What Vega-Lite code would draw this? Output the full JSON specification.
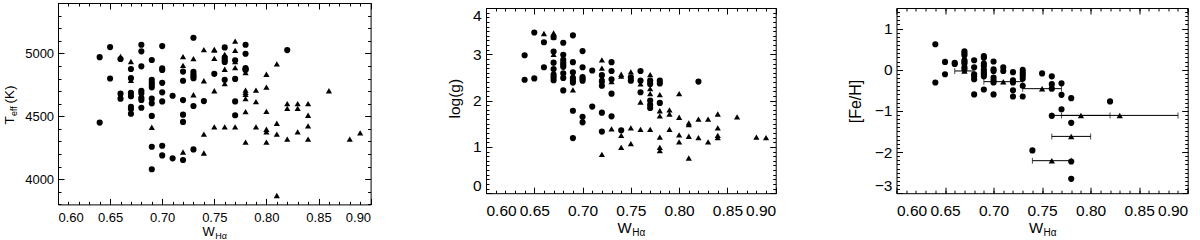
{
"$schema": "https://vega.github.io/schema/vega-lite/v6.json",
"background": "white",
"padding": {"left": 2, "top": 2, "right": 0, "bottom": 0},
"config": {"view": {"stroke": null}, "font": "Liberation Sans",
 "axis": {"grid": false, "domainColor": "black", "tickColor": "black", "labelColor": "black", "titleColor": "black", "titleFontWeight": "normal", "labelFont": "Liberation Sans", "titleFont": "Liberation Sans", "domainWidth": 1, "tickWidth": 1}},
"datasets": {
"p1": [
{"x":0.64,"y":4970,"s":"c"},{"x":0.64,"y":4450,"s":"c"},
{"x":0.65,"y":5050,"s":"c"},{"x":0.65,"y":4800,"s":"c"},
{"x":0.66,"y":4955,"s":"c"},{"x":0.66,"y":4975,"s":"t"},{"x":0.66,"y":4680,"s":"c"},{"x":0.66,"y":4640,"s":"c"},
{"x":0.67,"y":4935,"s":"t"},{"x":0.67,"y":4876,"s":"c"},{"x":0.67,"y":4803,"s":"c"},{"x":0.67,"y":4785,"s":"t"},{"x":0.67,"y":4687,"s":"c"},{"x":0.67,"y":4660,"s":"c"},{"x":0.67,"y":4576,"s":"c"},{"x":0.67,"y":4558,"s":"c"},{"x":0.67,"y":4520,"s":"c"},
{"x":0.68,"y":5068,"s":"c"},{"x":0.68,"y":5016,"s":"c"},{"x":0.68,"y":4897,"s":"c"},{"x":0.68,"y":4702,"s":"c"},{"x":0.68,"y":4684,"s":"c"},{"x":0.68,"y":4647,"s":"c"},{"x":0.68,"y":4630,"s":"c"},{"x":0.68,"y":4568,"s":"c"},
{"x":0.69,"y":4947,"s":"c"},{"x":0.69,"y":4790,"s":"c"},{"x":0.69,"y":4768,"s":"c"},{"x":0.69,"y":4750,"s":"c"},{"x":0.69,"y":4730,"s":"c"},{"x":0.69,"y":4640,"s":"c"},{"x":0.69,"y":4603,"s":"c"},{"x":0.69,"y":4503,"s":"c"},{"x":0.69,"y":4413,"s":"t"},{"x":0.69,"y":4258,"s":"c"},{"x":0.69,"y":4079,"s":"c"},
{"x":0.70,"y":5058,"s":"c"},{"x":0.70,"y":4880,"s":"c"},{"x":0.70,"y":4868,"s":"c"},{"x":0.70,"y":4766,"s":"c"},{"x":0.70,"y":4690,"s":"c"},{"x":0.70,"y":4618,"s":"c"},{"x":0.70,"y":4266,"s":"c"},{"x":0.70,"y":4189,"s":"c"},
{"x":0.71,"y":4663,"s":"c"},{"x":0.71,"y":4166,"s":"c"},
{"x":0.72,"y":4974,"s":"t"},{"x":0.72,"y":4905,"s":"t"},{"x":0.72,"y":4855,"s":"c"},{"x":0.72,"y":4782,"s":"c"},{"x":0.72,"y":4629,"s":"c"},{"x":0.72,"y":4513,"s":"c"},{"x":0.72,"y":4455,"s":"c"},{"x":0.72,"y":4216,"s":"t"},{"x":0.72,"y":4153,"s":"c"},
{"x":0.73,"y":5124,"s":"c"},{"x":0.73,"y":4958,"s":"t"},{"x":0.73,"y":4853,"s":"c"},{"x":0.73,"y":4834,"s":"c"},{"x":0.73,"y":4818,"s":"c"},{"x":0.73,"y":4803,"s":"c"},{"x":0.73,"y":4671,"s":"t"},{"x":0.73,"y":4582,"s":"c"},{"x":0.73,"y":4237,"s":"c"},
{"x":0.74,"y":5029,"s":"t"},{"x":0.74,"y":4782,"s":"t"},{"x":0.74,"y":4621,"s":"c"},{"x":0.74,"y":4358,"s":"t"},{"x":0.74,"y":4208,"s":"t"},
{"x":0.75,"y":5032,"s":"t"},{"x":0.75,"y":5025,"s":"t"},{"x":0.75,"y":4960,"s":"t"},{"x":0.75,"y":4837,"s":"c"},{"x":0.75,"y":4703,"s":"t"},{"x":0.75,"y":4416,"s":"t"},
{"x":0.76,"y":5047,"s":"c"},{"x":0.76,"y":4992,"s":"t"},{"x":0.76,"y":4966,"s":"c"},{"x":0.76,"y":4947,"s":"c"},{"x":0.76,"y":4932,"s":"c"},{"x":0.76,"y":4874,"s":"t"},{"x":0.76,"y":4790,"s":"c"},{"x":0.76,"y":4760,"s":"t"},{"x":0.76,"y":4416,"s":"t"},
{"x":0.77,"y":5097,"s":"t"},{"x":0.77,"y":5024,"s":"t"},{"x":0.77,"y":4945,"s":"c"},{"x":0.77,"y":4935,"s":"t"},{"x":0.77,"y":4887,"s":"t"},{"x":0.77,"y":4797,"s":"c"},{"x":0.77,"y":4618,"s":"c"},{"x":0.77,"y":4508,"s":"c"},{"x":0.77,"y":4416,"s":"t"},
{"x":0.78,"y":5068,"s":"c"},{"x":0.78,"y":4997,"s":"c"},{"x":0.78,"y":4882,"s":"c"},{"x":0.78,"y":4874,"s":"c"},{"x":0.78,"y":4868,"s":"c"},{"x":0.78,"y":4847,"s":"t"},{"x":0.78,"y":4708,"s":"t"},{"x":0.78,"y":4690,"s":"t"},{"x":0.78,"y":4674,"s":"t"},{"x":0.78,"y":4640,"s":"t"},{"x":0.78,"y":4537,"s":"t"},{"x":0.78,"y":4295,"s":"t"},
{"x":0.79,"y":4708,"s":"t"},{"x":0.79,"y":4616,"s":"t"},{"x":0.79,"y":4416,"s":"t"},
{"x":0.80,"y":4834,"s":"t"},{"x":0.80,"y":4732,"s":"t"},{"x":0.80,"y":4539,"s":"t"},{"x":0.80,"y":4397,"s":"t"},{"x":0.80,"y":4376,"s":"t"},{"x":0.80,"y":4295,"s":"t"},
{"x":0.81,"y":4916,"s":"t"},{"x":0.81,"y":4445,"s":"t"},{"x":0.81,"y":4358,"s":"t"},{"x":0.81,"y":3871,"s":"t"},
{"x":0.82,"y":5026,"s":"c"},{"x":0.82,"y":4600,"s":"t"},{"x":0.82,"y":4563,"s":"t"},{"x":0.82,"y":4318,"s":"t"},
{"x":0.83,"y":4600,"s":"t"},{"x":0.83,"y":4563,"s":"t"},{"x":0.83,"y":4376,"s":"t"},
{"x":0.84,"y":4600,"s":"t"},{"x":0.84,"y":4508,"s":"t"},{"x":0.84,"y":4424,"s":"t"},{"x":0.84,"y":4318,"s":"t"},
{"x":0.86,"y":4703,"s":"t"},{"x":0.88,"y":4318,"s":"t"},{"x":0.89,"y":4368,"s":"t"}
],
"p2": [
{"x":0.64,"y":2.98,"s":"c"},{"x":0.64,"y":2.45,"s":"c"},
{"x":0.65,"y":3.47,"s":"c"},{"x":0.65,"y":2.48,"s":"c"},
{"x":0.66,"y":3.45,"s":"t"},{"x":0.66,"y":3.26,"s":"c"},{"x":0.66,"y":2.72,"s":"c"},
{"x":0.67,"y":3.46,"s":"t"},{"x":0.67,"y":3.38,"s":"t"},{"x":0.67,"y":3.37,"s":"c"},{"x":0.67,"y":3.06,"s":"c"},{"x":0.67,"y":3.0,"s":"t"},{"x":0.67,"y":2.82,"s":"c"},{"x":0.67,"y":2.68,"s":"c"},{"x":0.67,"y":2.56,"s":"c"},{"x":0.67,"y":2.5,"s":"c"},{"x":0.67,"y":2.44,"s":"c"},
{"x":0.68,"y":3.25,"s":"c"},{"x":0.68,"y":2.99,"s":"c"},{"x":0.68,"y":2.88,"s":"c"},{"x":0.68,"y":2.82,"s":"c"},{"x":0.68,"y":2.77,"s":"c"},{"x":0.68,"y":2.73,"s":"c"},{"x":0.68,"y":2.59,"s":"c"},{"x":0.68,"y":2.49,"s":"c"},{"x":0.68,"y":2.22,"s":"c"},
{"x":0.69,"y":3.41,"s":"c"},{"x":0.69,"y":2.83,"s":"c"},{"x":0.69,"y":2.61,"s":"c"},{"x":0.69,"y":2.49,"s":"c"},{"x":0.69,"y":2.44,"s":"c"},{"x":0.69,"y":2.39,"s":"c"},{"x":0.69,"y":2.23,"s":"t"},{"x":0.69,"y":1.78,"s":"c"},{"x":0.69,"y":1.19,"s":"c"},
{"x":0.70,"y":3.07,"s":"c"},{"x":0.70,"y":2.72,"s":"c"},{"x":0.70,"y":2.51,"s":"c"},{"x":0.70,"y":2.47,"s":"c"},{"x":0.70,"y":2.43,"s":"c"},{"x":0.70,"y":1.65,"s":"c"},{"x":0.70,"y":1.53,"s":"c"},
{"x":0.71,"y":2.65,"s":"c"},{"x":0.71,"y":1.87,"s":"c"},
{"x":0.72,"y":2.88,"s":"t"},{"x":0.72,"y":2.7,"s":"t"},{"x":0.72,"y":2.55,"s":"c"},{"x":0.72,"y":2.5,"s":"t"},{"x":0.72,"y":2.41,"s":"c"},{"x":0.72,"y":2.32,"s":"c"},{"x":0.72,"y":1.74,"s":"c"},{"x":0.72,"y":1.33,"s":"c"},{"x":0.72,"y":0.84,"s":"t"},
{"x":0.73,"y":2.83,"s":"c"},{"x":0.73,"y":2.64,"s":"c"},{"x":0.73,"y":2.46,"s":"c"},{"x":0.73,"y":2.41,"s":"t"},{"x":0.73,"y":2.15,"s":"c"},{"x":0.73,"y":1.66,"s":"c"},{"x":0.73,"y":1.39,"s":"t"},
{"x":0.74,"y":2.57,"s":"t"},{"x":0.74,"y":2.53,"s":"t"},{"x":0.74,"y":1.36,"s":"c"},{"x":0.74,"y":1.25,"s":"t"},{"x":0.74,"y":0.99,"s":"t"},
{"x":0.75,"y":2.62,"s":"t"},{"x":0.75,"y":2.5,"s":"c"},{"x":0.75,"y":2.43,"s":"c"},{"x":0.75,"y":1.41,"s":"t"},{"x":0.75,"y":1.07,"s":"t"},
{"x":0.76,"y":2.64,"s":"c"},{"x":0.76,"y":2.43,"s":"c"},{"x":0.76,"y":2.36,"s":"t"},{"x":0.76,"y":2.18,"s":"c"},{"x":0.76,"y":1.97,"s":"t"},{"x":0.76,"y":1.38,"s":"t"},
{"x":0.77,"y":2.56,"s":"t"},{"x":0.77,"y":2.43,"s":"c"},{"x":0.77,"y":2.36,"s":"c"},{"x":0.77,"y":2.26,"s":"t"},{"x":0.77,"y":2.15,"s":"t"},{"x":0.77,"y":2.0,"s":"c"},{"x":0.77,"y":1.91,"s":"c"},{"x":0.77,"y":1.84,"s":"c"},{"x":0.77,"y":1.38,"s":"t"},
{"x":0.78,"y":2.43,"s":"c"},{"x":0.78,"y":2.37,"s":"c"},{"x":0.78,"y":2.13,"s":"t"},{"x":0.78,"y":1.95,"s":"c"},{"x":0.78,"y":1.78,"s":"t"},{"x":0.78,"y":1.67,"s":"t"},{"x":0.78,"y":1.21,"s":"t"},{"x":0.78,"y":0.99,"s":"t"},{"x":0.78,"y":0.92,"s":"t"},
{"x":0.79,"y":1.8,"s":"t"},{"x":0.79,"y":1.71,"s":"t"},{"x":0.79,"y":1.38,"s":"t"},
{"x":0.80,"y":2.15,"s":"t"},{"x":0.80,"y":1.64,"s":"t"},{"x":0.80,"y":1.26,"s":"t"},{"x":0.80,"y":1.11,"s":"t"},
{"x":0.81,"y":1.52,"s":"t"},{"x":0.81,"y":1.48,"s":"t"},{"x":0.81,"y":1.23,"s":"t"},{"x":0.81,"y":0.76,"s":"t"},
{"x":0.82,"y":2.41,"s":"c"},{"x":0.82,"y":1.6,"s":"t"},{"x":0.82,"y":1.2,"s":"t"},
{"x":0.83,"y":1.6,"s":"t"},{"x":0.83,"y":1.11,"s":"t"},
{"x":0.84,"y":1.71,"s":"t"},{"x":0.84,"y":1.41,"s":"t"},{"x":0.84,"y":1.25,"s":"t"},{"x":0.84,"y":1.2,"s":"t"},
{"x":0.86,"y":1.65,"s":"t"},{"x":0.88,"y":1.21,"s":"t"},{"x":0.89,"y":1.2,"s":"t"}
],
"p3": [
{"x":0.64,"y":0.62},{"x":0.64,"y":-0.31},
{"x":0.65,"y":0.19},{"x":0.65,"y":-0.11},
{"x":0.66,"y":0.17},{"x":0.66,"y":0.14},
{"x":0.67,"y":0.45},{"x":0.67,"y":0.4},{"x":0.67,"y":0.35},{"x":0.67,"y":0.23},{"x":0.67,"y":0.19},{"x":0.67,"y":0.15},{"x":0.67,"y":0.06},{"x":0.67,"y":0.01},
{"x":0.68,"y":0.23},{"x":0.68,"y":0.06},{"x":0.68,"y":-0.11},{"x":0.68,"y":-0.16},{"x":0.68,"y":-0.23},{"x":0.68,"y":-0.6},
{"x":0.69,"y":0.33},{"x":0.69,"y":0.29},{"x":0.69,"y":0.15},{"x":0.69,"y":0.09},{"x":0.69,"y":0.0},{"x":0.69,"y":-0.06},{"x":0.69,"y":-0.11},{"x":0.69,"y":-0.16},{"x":0.69,"y":-0.48},
{"x":0.70,"y":0.2},{"x":0.70,"y":0.01},{"x":0.70,"y":-0.03},{"x":0.70,"y":-0.19},{"x":0.70,"y":-0.26},{"x":0.70,"y":-0.31},{"x":0.70,"y":-0.6},
{"x":0.71,"y":0.06},{"x":0.71,"y":-0.03},
{"x":0.72,"y":-0.06},{"x":0.72,"y":-0.26},{"x":0.72,"y":-0.31},{"x":0.72,"y":-0.5},{"x":0.72,"y":-0.65},
{"x":0.73,"y":0.0},{"x":0.73,"y":-0.06},{"x":0.73,"y":-0.11},{"x":0.73,"y":-0.16},{"x":0.73,"y":-0.22},{"x":0.73,"y":-0.39},{"x":0.73,"y":-0.65},
{"x":0.74,"y":-1.96},{"x":0.75,"y":-0.09},
{"x":0.76,"y":-0.16},{"x":0.76,"y":-0.35},{"x":0.76,"y":-0.46},{"x":0.76,"y":-1.12},
{"x":0.77,"y":-0.33},{"x":0.77,"y":-0.61},{"x":0.77,"y":-0.96},
{"x":0.78,"y":-0.69},{"x":0.78,"y":-1.29},{"x":0.78,"y":-2.23},{"x":0.78,"y":-2.65},
{"x":0.82,"y":-0.77}
],
"e3": [
{"x":0.67,"y":-0.03,"lo":0.66,"hi":0.68},
{"x":0.71,"y":-0.29,"lo":0.69,"hi":0.73},
{"x":0.75,"y":-0.46,"lo":0.73,"hi":0.77},
{"x":0.79,"y":-1.11,"lo":0.76,"hi":0.82},
{"x":0.83,"y":-1.11,"lo":0.77,"hi":0.89},
{"x":0.78,"y":-1.62,"lo":0.76,"hi":0.8},
{"x":0.76,"y":-2.21,"lo":0.74,"hi":0.78}
]
},
"spacing": 115,
"bounds": "flush",
"hconcat": [
{
 "width": 312.6, "height": 201.4,
 "data": {"name": "p1"},
 "resolve": {"axis": {"x": "independent", "y": "independent"}},
 "layer": [
  {"mark": {"type": "point", "filled": true, "color": "black", "opacity": 1, "size": 38},
   "encoding": {
    "x": {"field": "x", "type": "quantitative", "scale": {"domain": [0.6, 0.9], "nice": false, "zero": false},
     "axis": {"orient": "bottom", "values": [0.6,0.65,0.7,0.75,0.8,0.85,0.9], "format": ".2f", "ticks": false, "labelFontSize": 13, "labelPadding": 7, "title": "W", "titleFontSize": 13, "titleX": 144, "titleY": 30.8, "titleAlign": "left", "titleBaseline": "alphabetic"}},
    "y": {"field": "y", "type": "quantitative", "scale": {"domain": [3800, 5400], "nice": false, "zero": false},
     "axis": {"orient": "left", "values": [4000,4500,5000], "format": "d", "ticks": false, "labelFontSize": 13, "labelPadding": 4.4, "title": "T", "titleFontSize": 13.5, "titleAngle": 270, "titleAlign": "left", "titleBaseline": "alphabetic", "titleX": -45, "titleY": 121}},
    "shape": {"field": "s", "type": "nominal", "scale": {"domain": ["c","t"], "range": ["circle","triangle-up"]}, "legend": null}
   }},
  {"mark": {"type": "point", "opacity": 0},
   "encoding": {
    "x": {"field": "x", "type": "quantitative", "axis": {"orient": "top", "values": [0.6,0.65,0.7,0.75,0.8,0.85,0.9], "labels": false, "tickSize": -6, "title": null}},
    "y": {"field": "y", "type": "quantitative", "axis": {"orient": "right", "values": [4000,4500,5000], "labels": false, "tickSize": -6, "title": null}}
   }},
  {"mark": {"type": "point", "opacity": 0},
   "encoding": {
    "x": {"field": "x", "type": "quantitative", "axis": {"orient": "bottom", "values": [0.6,0.65,0.7,0.75,0.8,0.85,0.9], "labels": false, "domain": false, "tickSize": -6, "title": "Hα", "titleFontSize": 9, "titleX": 156.8, "titleY": 33.8, "titleAlign": "left", "titleBaseline": "alphabetic"}},
    "y": {"field": "y", "type": "quantitative", "axis": {"orient": "left", "values": [4000,4500,5000], "labels": false, "domain": false, "tickSize": -6, "title": "eff", "titleFontSize": 9, "titleAngle": 270, "titleAlign": "left", "titleBaseline": "alphabetic", "titleX": -42, "titleY": 112.6}}
   }},
  {"mark": {"type": "point", "opacity": 0},
   "encoding": {
    "x": {"field": "x", "type": "quantitative", "axis": {"orient": "bottom", "values": [0.6,0.61,0.62,0.63,0.64,0.65,0.66,0.67,0.68,0.69,0.7,0.71,0.72,0.73,0.74,0.75,0.76,0.77,0.78,0.79,0.8,0.81,0.82,0.83,0.84,0.85,0.86,0.87,0.88,0.89,0.9], "labels": false, "domain": false, "tickSize": -3, "title": null}},
    "y": {"field": "y", "type": "quantitative", "axis": {"orient": "left", "values": [3800,3900,4000,4100,4200,4300,4400,4500,4600,4700,4800,4900,5000,5100,5200,5300,5400], "labels": false, "domain": false, "tickSize": -3, "title": "(K)", "titleFontSize": 13.5, "titleAngle": 270, "titleAlign": "left", "titleBaseline": "alphabetic", "titleX": -45, "titleY": 100}}
   }},
  {"mark": {"type": "point", "opacity": 0},
   "encoding": {
    "x": {"field": "x", "type": "quantitative", "axis": {"orient": "top", "values": [0.6,0.61,0.62,0.63,0.64,0.65,0.66,0.67,0.68,0.69,0.7,0.71,0.72,0.73,0.74,0.75,0.76,0.77,0.78,0.79,0.8,0.81,0.82,0.83,0.84,0.85,0.86,0.87,0.88,0.89,0.9], "labels": false, "domain": false, "tickSize": -3, "title": null}},
    "y": {"field": "y", "type": "quantitative", "axis": {"orient": "right", "values": [3800,3900,4000,4100,4200,4300,4400,4500,4600,4700,4800,4900,5000,5100,5200,5300,5400], "labels": false, "domain": false, "tickSize": -3, "title": null}}
   }}
 ]
},
{
 "spacing": 120.5,
 "bounds": "flush",
 "hconcat": [
 {
  "width": 289.7, "height": 190.2,
  "data": {"name": "p2"},
  "resolve": {"axis": {"x": "independent", "y": "independent"}},
  "layer": [
   {"mark": {"type": "point", "filled": true, "color": "black", "opacity": 1, "size": 38},
    "encoding": {
     "x": {"field": "x", "type": "quantitative", "scale": {"domain": [0.6, 0.9], "nice": false, "zero": false},
      "axis": {"orient": "bottom", "values": [0.6,0.65,0.7,0.75,0.8,0.85,0.9], "format": ".2f", "ticks": false, "labelFontSize": 15.5, "labelPadding": 10.5, "title": "W", "titleFontSize": 15, "titleX": 131, "titleY": 39, "titleAlign": "left", "titleBaseline": "alphabetic"}},
     "y": {"field": "y", "type": "quantitative", "scale": {"domain": [0, 4], "nice": false, "zero": false, "range": [190.2, 5]},
      "axis": {"orient": "left", "values": [0,1,2,3,4], "format": "d", "ticks": false, "labelFontSize": 15.5, "labelPadding": 5, "labelFlush": true, "title": "log(g)", "titleFontSize": 15.5, "titleAngle": 270, "titleAlign": "center", "titleBaseline": "alphabetic", "titleX": -26.7, "titleY": 95.2}},
     "shape": {"field": "s", "type": "nominal", "scale": {"domain": ["c","t"], "range": ["circle","triangle-up"]}, "legend": null}
    }},
   {"mark": {"type": "point", "opacity": 0},
    "encoding": {
     "x": {"field": "x", "type": "quantitative", "axis": {"orient": "top", "offset": -5, "values": [0.6,0.65,0.7,0.75,0.8,0.85,0.9], "labels": false, "tickSize": -6, "title": null}},
     "y": {"field": "y", "type": "quantitative", "axis": {"orient": "right", "values": [0,1,2,3,4], "labels": false, "tickSize": -6, "title": null}}
    }},
   {"mark": {"type": "point", "opacity": 0},
    "encoding": {
     "x": {"field": "x", "type": "quantitative", "axis": {"orient": "bottom", "values": [0.6,0.65,0.7,0.75,0.8,0.85,0.9], "labels": false, "domain": false, "tickSize": -6, "title": "Hα", "titleFontSize": 10, "titleX": 145.7, "titleY": 42.5, "titleAlign": "left", "titleBaseline": "alphabetic"}},
     "y": {"field": "y", "type": "quantitative", "axis": {"orient": "left", "values": [0,1,2,3,4], "labels": false, "domain": false, "tickSize": -6, "title": null}}
    }},
   {"mark": {"type": "point", "opacity": 0},
    "encoding": {
     "x": {"field": "x", "type": "quantitative", "axis": {"orient": "bottom", "values": [0.6,0.61,0.62,0.63,0.64,0.65,0.66,0.67,0.68,0.69,0.7,0.71,0.72,0.73,0.74,0.75,0.76,0.77,0.78,0.79,0.8,0.81,0.82,0.83,0.84,0.85,0.86,0.87,0.88,0.89,0.9], "labels": false, "domain": false, "tickSize": -3, "title": null}},
     "y": {"field": "y", "type": "quantitative", "axis": {"orient": "left", "values": [0,0.1,0.2,0.3,0.4,0.5,0.6,0.7,0.8,0.9,1,1.1,1.2,1.3,1.4,1.5,1.6,1.7,1.8,1.9,2,2.1,2.2,2.3,2.4,2.5,2.6,2.7,2.8,2.9,3,3.1,3.2,3.3,3.4,3.5,3.6,3.7,3.8,3.9,4], "labels": false, "domain": false, "tickSize": -3, "title": null}}
    }},
   {"mark": {"type": "point", "opacity": 0},
    "encoding": {
     "x": {"field": "x", "type": "quantitative", "axis": {"orient": "top", "offset": -5, "values": [0.6,0.61,0.62,0.63,0.64,0.65,0.66,0.67,0.68,0.69,0.7,0.71,0.72,0.73,0.74,0.75,0.76,0.77,0.78,0.79,0.8,0.81,0.82,0.83,0.84,0.85,0.86,0.87,0.88,0.89,0.9], "labels": false, "domain": false, "tickSize": -3, "title": null}},
     "y": {"field": "y", "type": "quantitative", "axis": {"orient": "right", "values": [0,0.1,0.2,0.3,0.4,0.5,0.6,0.7,0.8,0.9,1,1.1,1.2,1.3,1.4,1.5,1.6,1.7,1.8,1.9,2,2.1,2.2,2.3,2.4,2.5,2.6,2.7,2.8,2.9,3,3.1,3.2,3.3,3.4,3.5,3.6,3.7,3.8,3.9,4], "labels": false, "domain": false, "tickSize": -3, "title": null}}
    }}
  ]
 },
 {
  "width": 291.2, "height": 190.2,
  "data": {"name": "p3"},
  "resolve": {"axis": {"x": "independent", "y": "independent"}},
  "layer": [
   {"mark": {"type": "point", "filled": true, "color": "black", "opacity": 1, "size": 38, "shape": "circle"},
    "encoding": {
     "x": {"field": "x", "type": "quantitative", "scale": {"domain": [0.6, 0.9], "nice": false, "zero": false},
      "axis": {"orient": "bottom", "values": [0.6,0.65,0.7,0.75,0.8,0.85,0.9], "format": ".2f", "ticks": false, "labelFontSize": 15.5, "labelPadding": 10.5, "title": "W", "titleFontSize": 15, "titleX": 131.9, "titleY": 39, "titleAlign": "left", "titleBaseline": "alphabetic"}},
     "y": {"field": "y", "type": "quantitative", "scale": {"domain": [-3, 1.5], "nice": false, "zero": false, "range": [190.2, 5]},
      "axis": {"orient": "left", "values": [-3,-2,-1,0,1], "format": "d", "ticks": false, "labelFontSize": 15.5, "labelPadding": 4.5, "labelFlush": true, "title": "[Fe/H]", "titleFontSize": 16, "titleAngle": 270, "titleAlign": "center", "titleBaseline": "alphabetic", "titleX": -36, "titleY": 98}}
    }},
   {"data": {"name": "e3"}, "mark": {"type": "rule", "color": "black", "strokeWidth": 1},
    "encoding": {"x": {"field": "lo", "type": "quantitative", "axis": null}, "x2": {"field": "hi"}, "y": {"field": "y", "type": "quantitative", "axis": null}}},
   {"data": {"name": "e3"}, "mark": {"type": "tick", "orient": "vertical", "color": "black", "size": 6, "thickness": 1},
    "encoding": {"x": {"field": "lo", "type": "quantitative", "axis": null}, "y": {"field": "y", "type": "quantitative", "axis": null}}},
   {"data": {"name": "e3"}, "mark": {"type": "tick", "orient": "vertical", "color": "black", "size": 6, "thickness": 1},
    "encoding": {"x": {"field": "hi", "type": "quantitative", "axis": null}, "y": {"field": "y", "type": "quantitative", "axis": null}}},
   {"data": {"name": "e3"}, "mark": {"type": "point", "filled": true, "color": "black", "opacity": 1, "size": 40, "shape": "triangle-up"},
    "encoding": {"x": {"field": "x", "type": "quantitative", "axis": null}, "y": {"field": "y", "type": "quantitative", "axis": null}}},
   {"mark": {"type": "point", "opacity": 0},
    "encoding": {
     "x": {"field": "x", "type": "quantitative", "axis": {"orient": "top", "offset": -5, "values": [0.6,0.65,0.7,0.75,0.8,0.85,0.9], "labels": false, "tickSize": -6, "title": null}},
     "y": {"field": "y", "type": "quantitative", "axis": {"orient": "right", "values": [-3,-2,-1,0,1], "labels": false, "tickSize": -6, "title": null}}
    }},
   {"mark": {"type": "point", "opacity": 0},
    "encoding": {
     "x": {"field": "x", "type": "quantitative", "axis": {"orient": "bottom", "values": [0.6,0.65,0.7,0.75,0.8,0.85,0.9], "labels": false, "domain": false, "tickSize": -6, "title": "Hα", "titleFontSize": 10, "titleX": 146.6, "titleY": 42.5, "titleAlign": "left", "titleBaseline": "alphabetic"}},
     "y": {"field": "y", "type": "quantitative", "axis": {"orient": "left", "values": [-3,-2,-1,0,1], "labels": false, "domain": false, "tickSize": -6, "title": null}}
    }},
   {"mark": {"type": "point", "opacity": 0},
    "encoding": {
     "x": {"field": "x", "type": "quantitative", "axis": {"orient": "bottom", "values": [0.6,0.61,0.62,0.63,0.64,0.65,0.66,0.67,0.68,0.69,0.7,0.71,0.72,0.73,0.74,0.75,0.76,0.77,0.78,0.79,0.8,0.81,0.82,0.83,0.84,0.85,0.86,0.87,0.88,0.89,0.9], "labels": false, "domain": false, "tickSize": -3, "title": null}},
     "y": {"field": "y", "type": "quantitative", "axis": {"orient": "left", "values": [-3,-2.9,-2.8,-2.7,-2.6,-2.5,-2.4,-2.3,-2.2,-2.1,-2,-1.9,-1.8,-1.7,-1.6,-1.5,-1.4,-1.3,-1.2,-1.1,-1,-0.9,-0.8,-0.7,-0.6,-0.5,-0.4,-0.3,-0.2,-0.1,0,0.1,0.2,0.3,0.4,0.5,0.6,0.7,0.8,0.9,1,1.1,1.2,1.3,1.4,1.5], "labels": false, "domain": false, "tickSize": -3, "title": null}}
    }},
   {"mark": {"type": "point", "opacity": 0},
    "encoding": {
     "x": {"field": "x", "type": "quantitative", "axis": {"orient": "top", "offset": -5, "values": [0.6,0.61,0.62,0.63,0.64,0.65,0.66,0.67,0.68,0.69,0.7,0.71,0.72,0.73,0.74,0.75,0.76,0.77,0.78,0.79,0.8,0.81,0.82,0.83,0.84,0.85,0.86,0.87,0.88,0.89,0.9], "labels": false, "domain": false, "tickSize": -3, "title": null}},
     "y": {"field": "y", "type": "quantitative", "axis": {"orient": "right", "values": [-3,-2.9,-2.8,-2.7,-2.6,-2.5,-2.4,-2.3,-2.2,-2.1,-2,-1.9,-1.8,-1.7,-1.6,-1.5,-1.4,-1.3,-1.2,-1.1,-1,-0.9,-0.8,-0.7,-0.6,-0.5,-0.4,-0.3,-0.2,-0.1,0,0.1,0.2,0.3,0.4,0.5,0.6,0.7,0.8,0.9,1,1.1,1.2,1.3,1.4,1.5], "labels": false, "domain": false, "tickSize": -3, "title": null}}
    }}
  ]
 }
 ]
}
]
}
